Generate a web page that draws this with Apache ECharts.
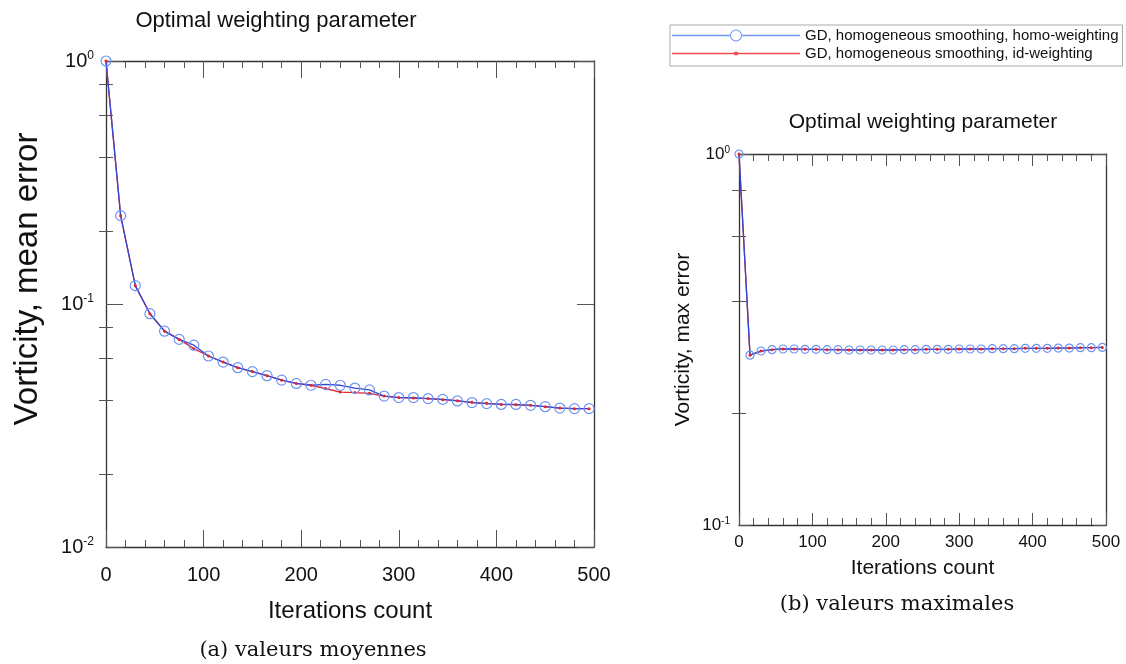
<!DOCTYPE html>
<html>
<head>
<meta charset="utf-8">
<script src="https://cdn.jsdelivr.net/npm/echarts@6/dist/echarts.min.js"></script>
<style>
  html, body { margin: 0; padding: 0; background: #fff; }
  #chart { width: 1126px; height: 664px; }
</style>
</head>
<body>
<div id="chart"></div>
<script>
// iterations at which the errors were sampled
const iterations = [0, 15, 30, 45, 60, 75, 90, 105, 120, 135, 150, 165, 180, 195, 210, 225, 240,
  255, 270, 285, 300, 315, 330, 345, 360, 375, 390, 405, 420, 435, 450, 465, 480, 495]

// (a) mean vorticity error
const meanHomo = [1.0, 0.231, 0.119, 0.0912, 0.0773, 0.0715, 0.0677, 0.0611, 0.0577, 0.0547, 0.0527,
  0.0507, 0.0486, 0.0471, 0.0463, 0.0467, 0.0463, 0.0451, 0.0443, 0.0418, 0.0412, 0.0412, 0.0408,
  0.0405, 0.0399, 0.0393, 0.0389, 0.0386, 0.0386, 0.0383, 0.0378, 0.0373, 0.0371, 0.0371]
const meanId = [1.0, 0.231, 0.119, 0.0912, 0.0773, 0.0715, 0.0655, 0.0611, 0.0577, 0.0547, 0.0527,
  0.0507, 0.0486, 0.0471, 0.0463, 0.0449, 0.0434, 0.0432, 0.0429, 0.0418, 0.0412, 0.0410, 0.0408,
  0.0404, 0.0400, 0.0394, 0.0390, 0.0386, 0.0385, 0.0383, 0.0378, 0.0373, 0.0371, 0.0371]

// (b) max vorticity error
const maxHomo = [1.0, 0.287, 0.2944, 0.2969, 0.2981, 0.2981, 0.2975, 0.2975, 0.2969, 0.2969, 0.2963,
  0.2963, 0.2963, 0.2963, 0.2963, 0.2969, 0.2969, 0.2975, 0.2975, 0.2975, 0.2981, 0.2981, 0.2981,
  0.2987, 0.2987, 0.2987, 0.2993, 0.2993, 0.2993, 0.2999, 0.2999, 0.3005, 0.3005, 0.3011]
const maxId = [1.0, 0.287, 0.2944, 0.2969, 0.2981, 0.2981, 0.2975, 0.2975, 0.2969, 0.2969, 0.2963,
  0.2963, 0.2963, 0.2963, 0.2963, 0.2969, 0.2969, 0.2975, 0.2975, 0.2975, 0.2981, 0.2981, 0.2981,
  0.2987, 0.2987, 0.2987, 0.2993, 0.2993, 0.2993, 0.2999, 0.2999, 0.3005, 0.3005, 0.3011]

// minor ticks of the log axes
const minorMean = [0.02, 0.04, 0.06, 0.08, 0.2, 0.4, 0.6, 0.8]
const minorMax = [0.2, 0.4, 0.6, 0.8]

const nameHomo = 'GD, homogeneous smoothing, homo-weighting'
const nameId = 'GD, homogeneous smoothing, id-weighting'

const sans = 'Liberation Sans, Arial, sans-serif'
const serif = 'DejaVu Serif, serif'
const ink = '#111'
const frame = { color: '#333', width: 1.3 }
const tickStyle = { color: '#555', width: 1 }

function pairs(xs, ys) {
  return xs.map((x, i) => [x, ys[i]])
}

function xAxes(grid, f) {
  const base = {
    type: 'value', gridIndex: grid, min: 0, max: 500, interval: 100,
    splitLine: { show: false },
    axisLine: { onZero: false, lineStyle: frame },
    axisTick: { inside: true, length: f.major, lineStyle: tickStyle },
    minorTick: { show: true, splitNumber: 5, length: 7, lineStyle: tickStyle },
  }
  return [
    Object.assign({}, base, {
      position: 'bottom',
      axisLabel: { fontSize: f.fontSize, color: ink, fontFamily: sans, margin: f.margin },
      name: 'Iterations count', nameLocation: 'middle', nameGap: f.nameGap,
      nameTextStyle: { fontSize: f.nameSize, color: ink, fontFamily: sans },
    }),
    Object.assign({}, base, { position: 'top', axisLabel: { show: false } }),
  ]
}

function yAxes(grid, f) {
  const base = {
    type: 'log', logBase: 10, gridIndex: grid, min: f.min, max: 1,
    splitLine: { show: false },
    axisLine: { onZero: false, lineStyle: frame },
    axisTick: { inside: true, length: f.major, lineStyle: tickStyle },
  }
  const minor = {
    type: 'log', logBase: 10, gridIndex: grid, min: f.min, max: 1,
    splitLine: { show: false }, axisLine: { show: false }, axisLabel: { show: false },
    axisTick: { inside: true, length: 7, customValues: f.minor, lineStyle: tickStyle },
  }
  return [
    Object.assign({}, base, {
      position: 'left',
      axisLabel: {
        fontSize: f.fontSize, color: ink, fontFamily: sans, margin: f.margin,
        formatter: v => '10{s|' + Math.round(Math.log10(v)) + '}',
        rich: { s: { fontSize: f.supSize, color: ink, fontFamily: sans, padding: [0, 0, f.supSize - 2, 0] } },
      },
      name: f.name, nameLocation: 'middle', nameGap: f.nameGap,
      nameTextStyle: { fontSize: f.nameSize, color: ink, fontFamily: sans, padding: f.namePad },
    }),
    Object.assign({}, base, { position: 'right', axisLabel: { show: false } }),
    Object.assign({}, minor, { position: 'left' }),
    Object.assign({}, minor, { position: 'right' }),
  ]
}

const red = '#e3242b'
const blueLine = '#3347d6'
const blueMark = '#6f93f0'

function lines(xi, yi, homo, id, size) {
  return [
    {
      name: nameId, type: 'line', xAxisIndex: xi, yAxisIndex: yi, data: pairs(iterations, id),
      symbol: 'circle', symbolSize: 3,
      lineStyle: { color: red, width: 1.3 }, itemStyle: { color: red },
    },
    {
      name: nameHomo, type: 'line', xAxisIndex: xi, yAxisIndex: yi, data: pairs(iterations, homo),
      symbol: 'circle', symbolSize: size,
      lineStyle: { color: blueLine, width: 1.3 },
      itemStyle: { color: 'rgba(0,0,0,0)', borderColor: blueMark, borderWidth: 1.2 },
    },
  ]
}

// legend keys: thin line with a ring / a small dot in the middle
const ringIcon = 'path://M0 6.2L58 6.2L58 7.8L0 7.8Z' +
  'M58 7A6 6 0 1 1 70 7A6 6 0 1 1 58 7Z' +
  'M59 7A5 5 0 1 0 69 7A5 5 0 1 0 59 7Z' +
  'M70 6.2L128 6.2L128 7.8L70 7.8Z'
const dotIcon = 'path://M0 6.2L128 6.2L128 7.8L0 7.8ZM62.2 5.2L65.8 5.2L65.8 8.8L62.2 8.8Z'

const chart = echarts.init(document.getElementById('chart'))

chart.setOption({
  animation: false,
  title: [
    { text: 'Optimal weighting parameter', left: 276, top: 10, textAlign: 'center', padding: 0,
      textStyle: { fontSize: 22, fontWeight: 'normal', fontFamily: sans, color: ink } },
    { text: 'Optimal weighting parameter', left: 923, top: 112, textAlign: 'center', padding: 0,
      textStyle: { fontSize: 21, fontWeight: 'normal', fontFamily: sans, color: ink } },
    { text: '(a) valeurs moyennes', left: 313, top: 640, textAlign: 'center', padding: 0,
      textStyle: { fontSize: 21, fontWeight: 'normal', fontFamily: serif, color: ink } },
    { text: '(b) valeurs maximales', left: 897, top: 594, textAlign: 'center', padding: 0,
      textStyle: { fontSize: 21, fontWeight: 'normal', fontFamily: serif, color: ink } },
  ],
  legend: {
    left: 670, top: 25, orient: 'vertical',
    itemWidth: 128, itemHeight: 14, itemGap: 3,
    padding: [3, 4, 5, 2],
    borderColor: '#aaa', borderWidth: 1,
    itemStyle: { borderWidth: 0 },
    textStyle: { fontSize: 15, color: ink, fontFamily: sans },
    data: [
      { name: nameHomo, icon: ringIcon,
        itemStyle: { color: '#6f96f2', borderColor: '#6f96f2', borderWidth: 0 } },
      { name: nameId, icon: dotIcon,
        itemStyle: { color: '#f0484e', borderColor: '#f0484e', borderWidth: 0 } },
    ],
  },
  grid: [
    { left: 106, top: 61, width: 488, height: 486 },
    { left: 739, top: 154, width: 367, height: 371 },
  ],
  xAxis: [].concat(
    xAxes(0, { major: 17, fontSize: 20, margin: 18, nameSize: 24, nameGap: 52 }),
    xAxes(1, { major: 12, fontSize: 17, margin: 9, nameSize: 21, nameGap: 33 })
  ),
  yAxis: [].concat(
    yAxes(0, { min: 0.01, major: 17, minor: minorMean, fontSize: 20, supSize: 12, margin: 12,
      name: 'Vorticity, mean error', nameSize: 33, nameGap: 62, namePad: [0, 0, 0, 50] }),
    yAxes(1, { min: 0.1, major: 12, minor: minorMax, fontSize: 17, supSize: 10, margin: 9,
      name: 'Vorticity, max error', nameSize: 21, nameGap: 45, namePad: 0 })
  ),
  series: [].concat(
    lines(0, 0, meanHomo, meanId, 10),
    lines(2, 4, maxHomo, maxId, 8)
  ),
})
</script>
</body>
</html>
